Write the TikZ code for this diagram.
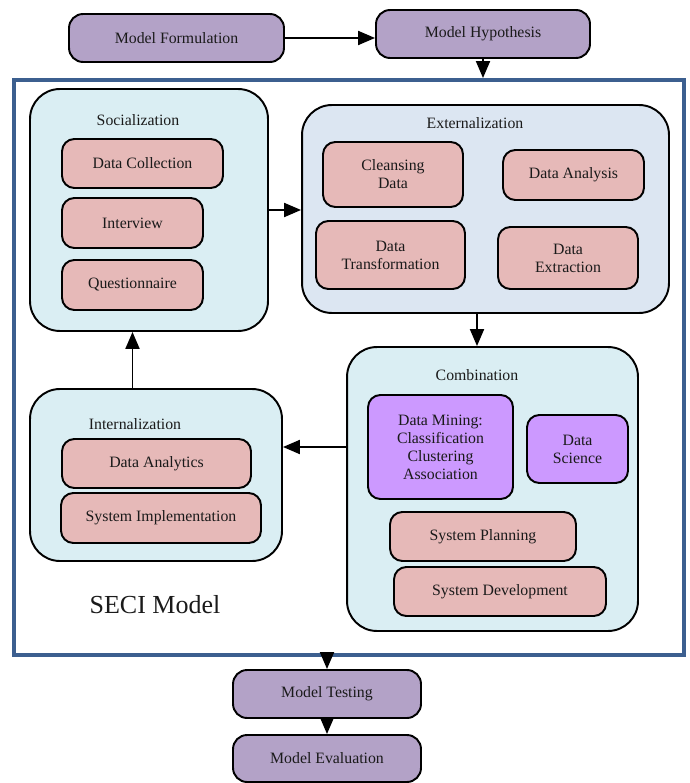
\documentclass[tikz,border=0pt]{standalone}
\usepackage{fontspec}
\setmainfont{Liberation Serif}
\usetikzlibrary{arrows.meta,positioning}
\definecolor{Lilac}{HTML}{B3A2C7}
\definecolor{Rose}{HTML}{E6B9B8}
\definecolor{Aqua}{HTML}{DAEEF3}
\definecolor{Steel}{HTML}{DCE6F2}
\definecolor{Orchid}{HTML}{CC99FF}
\definecolor{Frame}{HTML}{3C5F8F}
\definecolor{Ink}{HTML}{1A1A1A}
\tikzset{
  flow/.style={-{Triangle[length=3.4mm,width=2.8mm]}, line width=1.1pt, draw=black},
  stagebox/.style={rectangle, rounded corners=8pt, draw=black, fill=Lilac, line width=1.1pt, align=center, inner sep=2pt, font=\fontsize{9}{10.2}\selectfont, text=Ink},
  taskbox/.style={rectangle, rounded corners=7pt, draw=black, fill=Rose, line width=1.1pt, align=center, inner sep=2pt, font=\fontsize{9}{10.2}\selectfont, text=Ink},
  minebox/.style={taskbox, fill=Orchid},
  phasebox/.style={rectangle, rounded corners=17pt, draw=black, fill=Aqua, line width=1.1pt, inner sep=0pt},
  phasetitle/.style={font=\fontsize{9}{10.2}\selectfont, text=Ink},
}
\begin{document}
\begin{tikzpicture}[x=0.02cm,y=-0.02cm]
\path[use as bounding box] (0,0) rectangle (689,783);

% top stages
\node[stagebox,minimum width=4.3cm,minimum height=0.96cm] (mform) at (176.5,38) {Model Formulation};
\node[stagebox,minimum width=4.28cm,minimum height=0.96cm] (mhyp) at (483,34) {Model Hypothesis};
\draw[flow] (mform.east) -- (mform.east -| mhyp.west);

% SECI frame
\node[draw=Frame,line width=2.3pt,minimum width=13.4cm,minimum height=11.5cm,inner sep=0pt] (seci) at (349,367.5) {};
\draw[flow] (mhyp.south) -- (mhyp.south |- seci.north);

% the four phases
\node[phasebox,minimum width=4.76cm,minimum height=4.84cm] (soc) at (149,210) {};
\node[phasebox,fill=Steel,minimum width=7.34cm,minimum height=4.16cm] (ext) at (485.5,209) {};
\node[phasebox,minimum width=5.82cm,minimum height=5.68cm] (comb) at (492.5,489) {};
\node[phasebox,minimum width=5.04cm,minimum height=3.44cm] (intl) at (156,475) {};

\node[phasetitle] (soct) at (138,120) {Socialization};
\node[phasetitle] (extt) at (475,123) {Externalization};
\node[phasetitle] (combt) at (477,375) {Combination};
\node[phasetitle] (intlt) at (135,424) {Internalization};

% socialization
\node[taskbox,minimum width=3.22cm,minimum height=0.98cm] (dcoll) at (142.5,163.5) {Data Collection};
\node[taskbox,minimum width=2.82cm,minimum height=1.0cm] (intv) at (132.5,223) {Interview};
\node[taskbox,minimum width=2.82cm,minimum height=1.0cm] (quest) at (132.5,285) {Questionnaire};

% externalization
\node[taskbox,minimum width=2.8cm,minimum height=1.3cm] (clean) at (393,174.5) {Cleansing\\Data};
\node[taskbox,minimum width=2.82cm,minimum height=1.0cm] (dana) at (573.5,175) {Data Analysis};
\node[taskbox,minimum width=2.98cm,minimum height=1.36cm] (dtrans) at (390.5,255) {Data\\Transformation};
\node[taskbox,minimum width=2.8cm,minimum height=1.24cm] (dext) at (568,258) {Data\\Extraction};

% combination
\node[minebox,minimum width=2.9cm,minimum height=2.08cm] (dmin) at (440.5,447) {Data Mining:\\Classification\\Clustering\\Association};
\node[minebox,minimum width=2.02cm,minimum height=1.36cm] (dsci) at (577.5,449) {Data\\Science};
\node[taskbox,minimum width=3.72cm,minimum height=0.98cm] (splan) at (483,536.5) {System Planning};
\node[taskbox,minimum width=4.24cm,minimum height=0.98cm] (sdev) at (500,591.5) {System Development};

% internalization
\node[taskbox,minimum width=3.78cm,minimum height=0.98cm] (danly) at (156.5,463.5) {Data Analytics};
\node[taskbox,minimum width=4.0cm,minimum height=1.0cm] (simpl) at (161,518) {System Implementation};

\node[font=\fontsize{14.8}{16}\selectfont,text=Ink] (secil) at (155,605) {SECI Model};

% spiral
\draw[flow] (soc.east) -- (soc.east -| ext.west);
\draw[flow] (ext.south -| combt) -- (comb.north -| combt);
\draw[flow] (comb.west |- dmin) -- (intl.east |- dmin);
\draw[flow] (intl.north -| quest) -- (soc.south -| quest);

% bottom stages
\node[stagebox,minimum width=3.76cm,minimum height=0.96cm] (mtest) at (327,694) {Model Testing};
\node[stagebox,minimum width=3.76cm,minimum height=0.94cm] (meval) at (327,758.5) {Model Evaluation};
\draw[flow] (seci.south -| mtest) -- (mtest.north);
\draw[flow] (mtest.south) -- (meval.north);
\end{tikzpicture}
\end{document}
